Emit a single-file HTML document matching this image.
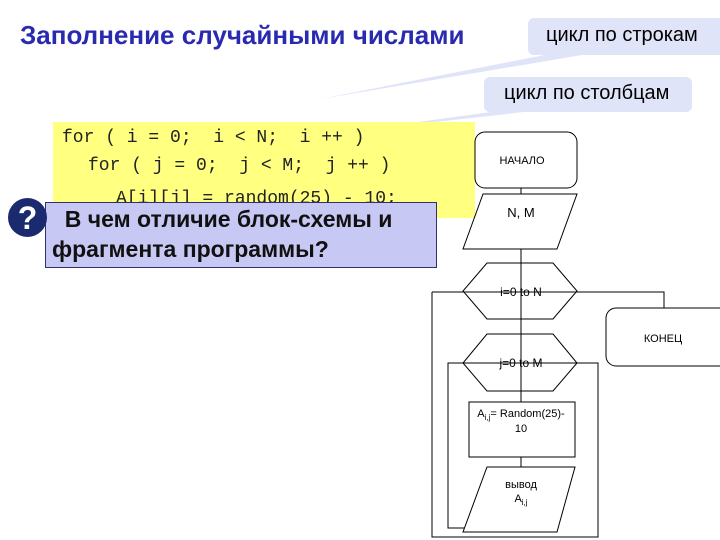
<!DOCTYPE html>
<html><head><meta charset="utf-8"><style>
body{margin:0;width:720px;height:540px;background:#fff;position:relative;overflow:hidden;font-family:"Liberation Sans",sans-serif}
.a{position:absolute}
.c{position:absolute;font-family:'Liberation Mono',monospace;font-size:18px;color:#222;white-space:pre}
</style></head><body>
<div class="a" style="left:20px;top:20px;font-size:26px;font-weight:bold;color:#2a2ab0;white-space:nowrap">Заполнение случайными числами</div>
<svg class="a" style="left:0;top:0" width="720" height="540">
<polygon points="560,52 600,52 320,99" fill="#e0e4f8"/>
<polygon points="520,108 560,108 345,132" fill="#e0e4f8"/>
<rect x="528" y="18" width="200" height="37" rx="6" fill="#e0e4f8"/>
<rect x="484" y="77" width="208" height="35" rx="6" fill="#e0e4f8"/>
<rect x="53" y="122" width="422" height="96" fill="#ffff80"/>
</svg>
<div class="a" style="left:546px;top:24px;font-size:20px;color:#000;white-space:nowrap">цикл по строкам</div>
<div class="a" style="left:504px;top:82px;font-size:20px;color:#000;white-space:nowrap">цикл по столбцам</div>
<div class="c" style="left:62px;top:128px">for ( i = 0;  i &lt; N;  i ++ )</div>
<div class="c" style="left:88px;top:156px">for ( j = 0;  j &lt; M;  j ++ )</div>
<div class="c" style="left:116px;top:189px">A[i][j] = random(25) - 10;</div>
<div class="a" style="left:45px;top:202px;width:390px;height:64px;background:#c8c8f4;border:1px solid #303070"></div>
<div class="a" style="left:52px;top:204px;font-size:23px;font-weight:bold;line-height:30px;color:#111;white-space:pre">  В чем отличие блок-схемы и
фрагмента программы?</div>
<div class="a" style="left:8px;top:198px;width:39px;height:39px;border-radius:50%;background:#1a2a6e;color:#fff;font-size:32px;font-weight:bold;text-align:center;line-height:40px">?</div>
<svg class="a" style="left:0;top:0" width="720" height="540" font-family="Liberation Sans,sans-serif" font-size="11">
<g fill="#fff" stroke="#000" stroke-width="1">
<line x1="521" y1="188" x2="521" y2="528"/>
<polyline points="432,292 664,292 664,308" fill="none"/>
<polyline points="521,528 448,528 448,363 598,363 598,537 432,537 432,292" fill="none"/>
<rect x="475" y="132" width="102" height="56" rx="10"/>
<polygon points="483,194 577,194 557,249 463,249"/>
<polygon points="487,263 553,263 577,291 553,319 487,319 463,291" fill="none"/>
<rect x="606" y="308" width="130" height="58" rx="10"/>
<polygon points="487,334 553,334 577,363 553,391 487,391 463,363" fill="none"/>
<rect x="469" y="402" width="106" height="55"/>
<polygon points="487,467 575,467 557,532 463,532"/>
</g>
<g fill="#000" text-anchor="middle">
<text x="522" y="164">НАЧАЛО</text>
<text x="521" y="217" font-size="13">N, M</text>
<text x="521" y="296" font-size="12">i=0 to N</text>
<text x="663" y="342">КОНЕЦ</text>
<text x="521" y="367" font-size="12">j=0 to M</text>
<text x="521" y="417">A<tspan font-size="8" dy="3">i,j</tspan><tspan dy="-3">= Random(25)-</tspan></text>
<text x="521" y="432">10</text>
<text x="521" y="488">вывод</text>
<text x="521" y="502">A<tspan font-size="8" dy="3">i,j</tspan></text>
</g>
</svg>
</body></html>
